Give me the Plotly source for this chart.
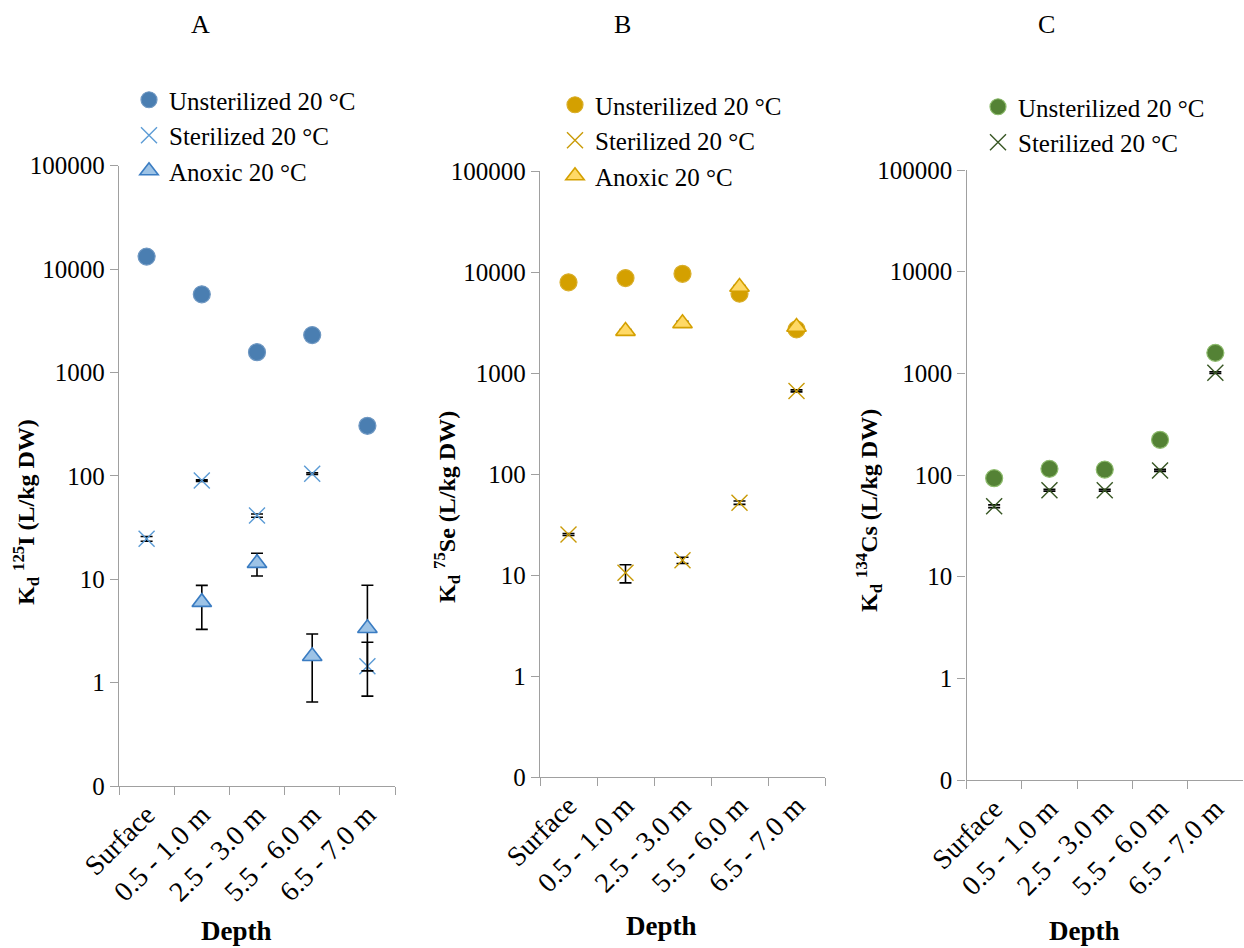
import plotly.graph_objects as go

# Depth categories shared by all three panels
depth = ["Surface", "0.5 - 1.0 m", "2.5 - 3.0 m", "5.5 - 6.0 m", "6.5 - 7.0 m"]

# Panel A: Kd 125I
iodine_unsterilized = [13200, 5700, 1570, 2300, 305]
iodine_sterilized = [24.6, 90, 41.3, 105, 1.44]
iodine_sterilized_err_plus = [1.3, 1.5, 1.5, 2.0, 1.02]
iodine_sterilized_err_minus = [1.3, 1.5, 1.5, 2.0, 0.70]
iodine_anoxic = [None, 6.0, 14.3, 1.8, 3.36]
iodine_anoxic_err_plus = [0, 2.73, 3.55, 1.15, 5.39]
iodine_anoxic_err_minus = [0, 2.73, 3.55, 1.15, 2.06]

# Panel B: Kd 75Se
se_unsterilized = [7900, 8700, 9600, 6100, 2700]
se_sterilized = [25.2, 10.5, 14.0, 52, 665]
se_sterilized_err = [0.6, 2.15, 1.0, 2.0, 15]
se_anoxic = [None, 2600, 3100, 7100, 2850]
se_anoxic_err = [0, 100, 150, 250, 100]

# Panel C: Kd 134Cs
cs_unsterilized = [93, 115, 113, 222, 1590]
cs_sterilized = [49.3, 70.7, 70.7, 111, 1015]
cs_sterilized_err = [1.5, 1.5, 1.5, 2.5, 20]

# Log axis ticks; the lowest decade (0.1) is labelled "0"
y_tickvals = [0.1, 1, 10, 100, 1000, 10000, 100000]
y_ticktext = ["0", "1", "10", "100", "1000", "10000", "100000"]

FONT = "Liberation Serif, Times New Roman, serif"
W, H = 1244, 948

fig = go.Figure()


def err(plus, minus=None):
    return dict(type="data", array=plus, arrayminus=minus if minus is not None else plus,
                symmetric=minus is None, color="black", thickness=1.6, width=6)


def add_circles(y, color, edge, xa, ya, leg):
    fig.add_trace(go.Scatter(
        x=depth, y=y, mode="markers", name="Unsterilized 20 °C",
        marker=dict(symbol="circle", size=17, color=color, line=dict(color=edge, width=1.2)),
        xaxis=xa, yaxis=ya, legend=leg))


def add_crosses(y, color, e, xa, ya, leg):
    fig.add_trace(go.Scatter(
        x=depth, y=y, mode="markers", name="Sterilized 20 °C",
        marker=dict(symbol="x-thin-open", size=16, color=color, line=dict(color=color, width=1.4)),
        error_y=e, xaxis=xa, yaxis=ya, legend=leg))


def add_triangles(y, fill, edge, e, xa, ya, leg):
    fig.add_trace(go.Scatter(
        x=depth, y=y, mode="markers", name="Anoxic 20 °C",
        marker=dict(symbol="triangle-up", size=17, color=fill, line=dict(color=edge, width=1.6)),
        error_y=e, xaxis=xa, yaxis=ya, legend=leg))


# Panel A
add_circles(iodine_unsterilized, "#4A7EB1", "#6E97C2", "x", "y", "legend")
add_crosses(iodine_sterilized, "#5B9BD5", err(iodine_sterilized_err_plus, iodine_sterilized_err_minus), "x", "y", "legend")
add_triangles(iodine_anoxic, "#9DC3E6", "#3A7CC2", err(iodine_anoxic_err_plus, iodine_anoxic_err_minus), "x", "y", "legend")

# Panel B
add_circles(se_unsterilized, "#D4A000", "#D9AE2A", "x2", "y2", "legend2")
add_crosses(se_sterilized, "#C99A06", err(se_sterilized_err), "x2", "y2", "legend2")
add_triangles(se_anoxic, "#FFD966", "#D4A000", err(se_anoxic_err), "x2", "y2", "legend2")

# Panel C
add_circles(cs_unsterilized, "#548235", "#8DBB6C", "x3", "y3", "legend3")
add_crosses(cs_sterilized, "#375623", err(cs_sterilized_err), "x3", "y3", "legend3")

# Plot area bounds in pixels: (left, right, top of 100000, bottom of 0.1)
panels = [
    (119, 395, 165.7, 786),
    (540, 825, 171, 777),
    (966.5, 1243, 170, 780),
]

axis_line = "#A0A0A0"
y_tick_font = dict(family=FONT, size=25, color="black")
x_tick_font = dict(family=FONT, size=28, color="black")
layout_axes = {}
for i, (l, r, t, b) in enumerate(panels):
    sfx = "" if i == 0 else str(i + 1)
    layout_axes["xaxis" + sfx] = dict(
        domain=[l / W, r / W], anchor="y" + sfx, type="category",
        categoryorder="array", categoryarray=depth, automargin=False,
        range=[-0.5, 4.5], tickson="boundaries", ticks="outside", ticklen=8,
        tickcolor=axis_line, tickwidth=1.3, showline=True, linecolor=axis_line,
        linewidth=1.3, showgrid=False, zeroline=False, tickangle=-45,
        tickfont=x_tick_font, fixedrange=True)
    layout_axes["yaxis" + sfx] = dict(
        domain=[1 - b / H, 1 - t / H], anchor="x" + sfx, type="log", automargin=False,
        range=[-1, 5], tickvals=y_tickvals, ticktext=y_ticktext,
        ticks="outside", ticklen=8, tickcolor=axis_line, tickwidth=1.3,
        showline=True, linecolor=axis_line, linewidth=1.3, showgrid=False,
        zeroline=False, tickfont=y_tick_font, fixedrange=True)

legend_style = dict(font=dict(family=FONT, size=25, color="black"),
                    bgcolor="rgba(0,0,0,0)", xanchor="left", yanchor="top",
                    itemwidth=30, tracegroupgap=0, itemclick=False)


def label(text, px, py, size, angle=0):
    return dict(text=text, x=px / W, y=1 - py / H, xref="paper", yref="paper",
                xanchor="center", yanchor="middle", showarrow=False, textangle=angle,
                font=dict(family=FONT, size=size, color="black"))


annotations = []
# Panel letters
for letter, px in [("A", 200), ("B", 622), ("C", 1046)]:
    annotations.append(label(letter, px, 25, 26))
# X axis titles
for px, py in [(236, 931), (661, 926), (1084, 931)]:
    annotations.append(label("<b>Depth</b>", px, py, 27))
# Y axis titles
y_titles = [
    ("<b>K<sub>d</sub> <sup>125</sup>I (L/kg DW)</b>", 26, 512),
    ("<b>K<sub>d</sub> <sup>75</sup>Se (L/kg DW)</b>", 447, 507),
    ("<b>K<sub>d</sub> <sup>134</sup>Cs (L/kg DW)</b>", 869, 511),
]
for text, px, py in y_titles:
    annotations.append(label(text, px, py, 24, angle=-90))

fig.update_layout(
    template="none",
    width=W, height=H, margin=dict(l=0, r=0, t=0, b=0, pad=0, autoexpand=False),
    paper_bgcolor="white", plot_bgcolor="white",
    font=dict(family=FONT, color="black"),
    showlegend=True,
    legend=dict(x=129 / W, y=1 - 77 / H, **legend_style),
    legend2=dict(x=555 / W, y=1 - 82 / H, **legend_style),
    legend3=dict(x=978 / W, y=1 - 84 / H, **legend_style),
    annotations=annotations,
    **layout_axes,
)

fig.write_html("out.html", config={"displayModeBar": False})
